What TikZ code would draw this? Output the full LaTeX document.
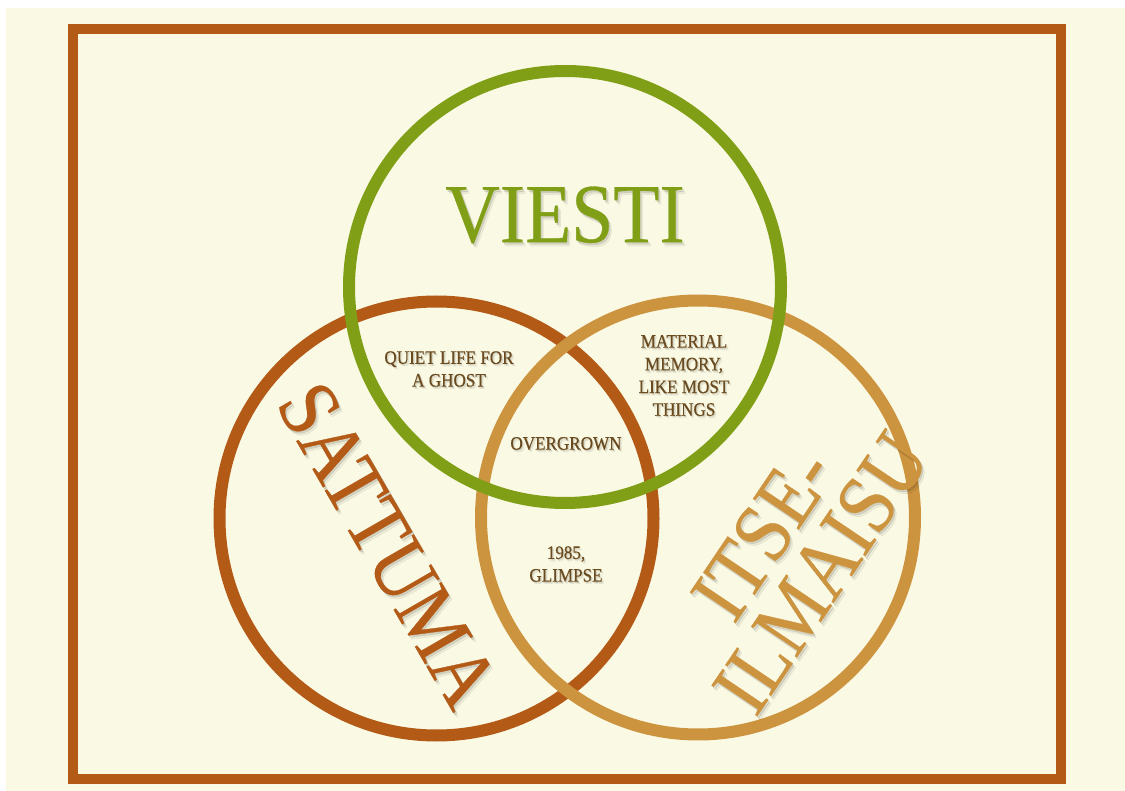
\documentclass[tikz,border=0pt]{standalone}
\usepackage{fontspec}
\setmainfont{Liberation Serif}[FakeStretch=0.9, FakeBold=0.4]
\usetikzlibrary{calc}

\definecolor{paper}{HTML}{FAF9E4}
\definecolor{rust}{HTML}{B35A17}
\definecolor{ochre}{HTML}{CD9440}
\definecolor{leaf}{HTML}{809F16}
\definecolor{ink}{HTML}{6A4A1F}

% text with a soft drop shadow: name, position, style, text, shadow offset
\newcommand{\softlabel}[5]{%
  \node[#3, text=black, opacity=0.06] at ($(#2)+2*(#5)$) {#4};
  \node[#3, text=black, opacity=0.10] at ($(#2)+(#5)$) {#4};
  \node[#3] (#1) at (#2) {#4};
}

\tikzset{
  ring/.style={line width=12pt},
  small/.style={text=ink, font=\fontsize{19}{22.7}\selectfont, align=center, inner sep=0pt},
  big/.style={font=\fontsize{84}{70}\selectfont, align=center, inner sep=0pt},
}

\begin{document}
\begin{tikzpicture}[x=1pt, y=-1pt]
  \useasboundingbox (0,0) rectangle (1125,791);
  \fill[white] (0,0) rectangle (1125,791);
  \fill[paper] (6,8) rectangle (1125,791);

  % frame
  \draw[rust, line width=10pt] (73,29) rectangle (1060.5,778.5);

  % the three rings
  \draw[ring, rust]  (436.5,518.5) circle[radius=217];
  \draw[ring, ochre] (698,517.5)   circle[radius=217];
  \draw[ring, leaf]  (565,287)     circle[radius=216];

  % set titles
  \softlabel{viesti}{565,215}{big, text=leaf}{VIESTI}{1.5,2}
  \softlabel{sattuma}{388,545}{big, text=rust, rotate=-60}{SATTUMA}{1.5,2}
  \softlabel{itse}{792,553}{big, text=ochre, rotate=56}{ITSE-\\ILMAISU}{1.5,2}

  % overlap labels
  \softlabel{quiet}{449,369}{small}{QUIET LIFE FOR\\A GHOST}{1,1.2}
  \softlabel{material}{684,375.5}{small}{MATERIAL\\MEMORY,\\LIKE MOST\\THINGS}{1,1.2}
  \softlabel{overgrown}{566,443.5}{small}{OVERGROWN}{1,1.2}
  \softlabel{glimpse}{566,564}{small}{1985,\\GLIMPSE}{1,1.2}
\end{tikzpicture}
\end{document}
